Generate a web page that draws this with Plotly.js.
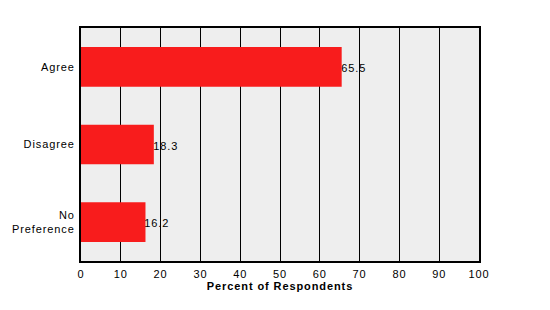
<!DOCTYPE html>
<html>
<head>
<meta charset="utf-8">
<script src="https://cdn.plot.ly/plotly-3.0.1.min.js"></script>
<style>
html,body{margin:0;padding:0;background:#fff;}
#chart svg text{letter-spacing:0.9px;}
</style>
</head>
<body>
<div id="chart" style="width:550px;height:310px;"></div>
<script>
var categories = ["Agree", "Disagree", "No<br>Preference"];
var values = [65.5, 18.3, 16.2];
var valueLabels = ["65.5", "18.3", "16.2"];
var xTickVals = [0, 10, 20, 30, 40, 50, 60, 70, 80, 90, 100];

var trace = {
  type: "bar",
  orientation: "h",
  y: categories,
  x: values,
  width: 0.51,
  marker: {color: "#f81c1c", line: {width: 0}},
  hoverinfo: "none"
};

var annotations = values.map(function (v, i) {
  return {
    x: v, y: categories[i], xref: "x", yref: "y",
    text: valueLabels[i], showarrow: false,
    xanchor: "left", yanchor: "middle", xshift: -1, yshift: -1,
    font: {family: "Arial, Liberation Sans, sans-serif", size: 11, color: "#000"}
  };
});

var layout = {
  width: 550, height: 310,
  margin: {l: 81, r: 71, t: 28, b: 49},
  paper_bgcolor: "#ffffff",
  plot_bgcolor: "#eeeeee",
  showlegend: false,
  font: {family: "Arial, Liberation Sans, sans-serif", size: 11, color: "#000"},
  xaxis: {
    range: [0, 100],
    tickvals: xTickVals,
    ticktext: xTickVals.map(String),
    showgrid: true, gridcolor: "#000", gridwidth: 1,
    zeroline: false,
    showline: true, linecolor: "#000", linewidth: 2, mirror: true,
    ticks: "outside", ticklen: 2, tickcolor: "rgba(0,0,0,0)",
    tickfont: {size: 11},
    title: {text: "Percent of Respondents", font: {size: 11, weight: "bold"}, standoff: 2},
    fixedrange: true
  },
  yaxis: {
    autorange: "reversed",
    showgrid: false, zeroline: false,
    showline: true, linecolor: "#000", linewidth: 2, mirror: true,
    ticks: "outside", ticklen: 2, tickcolor: "rgba(0,0,0,0)",
    tickfont: {size: 11},
    fixedrange: true
  },
  annotations: annotations
};

Plotly.newPlot("chart", [trace], layout, {displayModeBar: false, staticPlot: true});
</script>
</body>
</html>
